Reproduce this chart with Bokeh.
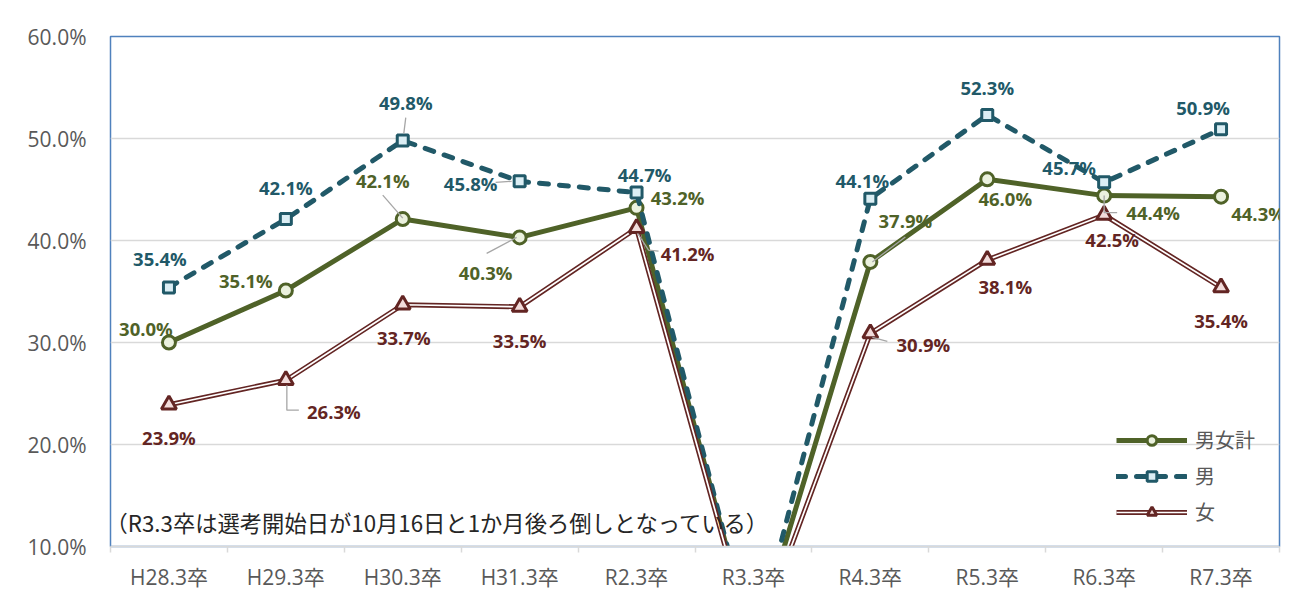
from bokeh.plotting import figure
from bokeh.models import (ColumnDataSource, FixedTicker, PrintfTickFormatter, Legend,
                          LegendItem, Label, Range1d)
from bokeh.core.properties import value
from bokeh.embed import file_html
from bokeh.resources import INLINE

# ---------------- data ----------------
categories = ["H28.3卒", "H29.3卒", "H30.3卒", "H31.3卒", "R2.3卒",
              "R3.3卒", "R4.3卒", "R5.3卒", "R6.3卒", "R7.3卒"]
total = [30.0, 35.1, 42.1, 40.3, 43.2, 0.0, 37.9, 46.0, 44.4, 44.3]    # 男女計
male = [35.4, 42.1, 49.8, 45.8, 44.7, 0.0, 44.1, 52.3, 45.7, 50.9]     # 男
female = [23.9, 26.3, 33.7, 33.5, 41.2, 0.0, 30.9, 38.1, 42.5, 35.4]   # 女
shown = [True, True, True, True, True, False, True, True, True, True]  # R3.3 is off-scale
note = "（R3.3卒は選考開始日が10月16日と1か月後ろ倒しとなっている）"

# ---------------- style ----------------
GREEN, TEAL, RED = "#4f6228", "#215968", "#632523"
GRAY_TXT = "#595959"
W, H = 1300, 593
BL, BR, BT, BB = 110, 21, 36, 46
Y0, Y1 = 10, 60
PXX = (W - BL - BR) / len(categories)
PXY = (H - BT - BB) / (Y1 - Y0)

# label offsets (screen px from marker centre, y downward)
off_total = [(-23, -14), (-40, -10), (-20, -39), (-34, 35), (41, -10), None,
             (35, -42), (18, 19), (49, 17), (37, 17)]
off_male = [(-9, -29), (0, -32), (3, -38), (-49, 2), (8, -18), None,
            (-8, -18), (0, -28), (-35, -15), (-18, -22)]
off_female = [(0, 33), (48, 31), (1, 33), (0, 34), (51, 25), None,
              (53, 11), (18, 27), (8, 25), (0, 33)]
# leader lines (series, index, polyline of px offsets)
leaders = [
    (male, 2, [(3, -23), (1, -7)]),
    (total, 2, [(-20, -24), (0, -1)]),
    (male, 3, [(-24, 1), (-8, 0)]),
    (total, 3, [(-33, 16), (-3, 0)]),
    (female, 1, [(1, 5), (1, 30), (13, 30)]),
    (female, 4, [(1, 5), (12, 22), (22, 23)]),
    (total, 6, [(35, -25), (2, 0)]),
    (female, 6, [(2, 4), (17, 8)]),
    (total, 8, [(0, 0), (0, 17), (13, 17)]),
]

xs = [i + 0.5 for i in range(len(categories))]

p = figure(width=W, height=H, output_backend="svg", toolbar_location=None,
           x_range=Range1d(0, len(categories)), y_range=Range1d(Y0, Y1),
           min_border_left=BL, min_border_right=BR, min_border_top=BT, min_border_bottom=BB)
p.outline_line_color = "#4f81bd"
p.outline_line_width = 1.5
p.background_fill_color = "white"
p.border_fill_color = "white"

p.xgrid.visible = False
p.ygrid.ticker = FixedTicker(ticks=[10, 20, 30, 40, 50, 60])
p.ygrid.grid_line_color = "#d9d9d9"
p.ygrid.grid_line_width = 1.5

p.yaxis.ticker = FixedTicker(ticks=[10, 20, 30, 40, 50, 60])
p.yaxis.formatter = PrintfTickFormatter(format="%.1f%%")
p.yaxis.axis_line_color = None
p.yaxis.major_tick_line_color = None
p.yaxis.minor_tick_line_color = None
p.yaxis.major_label_text_font = "Open Sans"
p.yaxis.major_label_text_font_size = "21px"
p.yaxis.major_label_text_color = GRAY_TXT
p.yaxis.major_label_standoff = 18

p.xaxis.ticker = FixedTicker(ticks=xs, minor_ticks=list(range(len(categories) + 1)))
p.xaxis.major_label_overrides = {x: c for x, c in zip(xs, categories)}
p.xaxis.axis_line_color = "#d9d9d9"
p.xaxis.axis_line_width = 1.5
p.xaxis.major_tick_line_color = None
p.xaxis.minor_tick_line_color = "#d9d9d9"
p.xaxis.minor_tick_line_width = 1.5
p.xaxis.minor_tick_in = 0
p.xaxis.minor_tick_out = 6
p.xaxis.major_label_text_font = "Open Sans, Noto Sans CJK JP"
p.xaxis.major_label_text_font_size = "21px"
p.xaxis.major_label_text_color = GRAY_TXT
p.xaxis.major_label_standoff = 10

src = ColumnDataSource(dict(x=xs, total=total, male=male, female=female))

# 男女計
g_line = p.line("x", "total", source=src, line_color=GREEN, line_width=5, line_join="round")
g_mark = p.scatter("x", "total", source=src, marker="circle", size=13,
                   fill_color="#ebf1de", line_color=GREEN, line_width=3)
# 男
m_line = p.line("x", "male", source=src, line_color=TEAL, line_width=5,
                line_dash="9 11", line_cap="round", line_join="round")
m_mark = p.scatter("x", "male", source=src, marker="square", size=11,
                   fill_color="#dbeef4", line_color=TEAL, line_width=3)
# 女 (double line)
f_line = p.line("x", "female", source=src, line_color=RED, line_width=5)
f_inner = p.line("x", "female", source=src, line_color="white", line_width=1.7)
f_mark = p.scatter("x", "female", source=src, marker="triangle", size=15,
                   fill_color="#f2dcdb", line_color=RED, line_width=3)

# leader lines
for series, i, pts in leaders:
    lx = [xs[i] + dx / PXX for dx, dy in pts]
    ly = [series[i] - dy / PXY for dx, dy in pts]
    p.line(lx, ly, line_color="#a6a6a6", line_width=1.3)

# data labels
def add_labels(series, offs, color):
    lx, ly, lt = [], [], []
    for i, v in enumerate(series):
        if not shown[i] or offs[i] is None:
            continue
        dx, dy = offs[i]
        lx.append(xs[i] + dx / PXX)
        ly.append(v - dy / PXY)
        lt.append(f"{v:.1f}%")
    s = ColumnDataSource(dict(x=lx, y=ly, t=lt))
    p.text("x", "y", text="t", source=s, text_font=value("Open Sans"),
           text_font_style="bold", text_font_size="18.5px", text_color=color,
           text_align="center", text_baseline="middle")

add_labels(total, off_total, GREEN)
add_labels(male, off_male, TEAL)
add_labels(female, off_female, RED)

# note
p.add_layout(Label(x=(105 - BL) / PXX, y=Y0 + 25 / PXY, text=note,
                   text_font="Noto Sans CJK JP", text_font_size="22.3px",
                   text_color="#262626", text_baseline="middle", text_align="left"))

legend = Legend(items=[
    LegendItem(label="男女計", renderers=[g_line, g_mark]),
    LegendItem(label="男", renderers=[m_line, m_mark]),
    LegendItem(label="女", renderers=[f_line, f_inner, f_mark]),
], location=(1006, 20))
legend.glyph_width = 71
legend.glyph_height = 24
legend.label_height = 24
legend.spacing = 7
legend.padding = 0
legend.margin = 0
legend.label_standoff = 8
legend.label_text_font = "Noto Sans CJK JP"
legend.label_text_font_size = "20px"
legend.label_text_color = GRAY_TXT
legend.border_line_color = None
legend.background_fill_alpha = 0
p.add_layout(legend)

open("out.html", "w").write(file_html(p, INLINE))
